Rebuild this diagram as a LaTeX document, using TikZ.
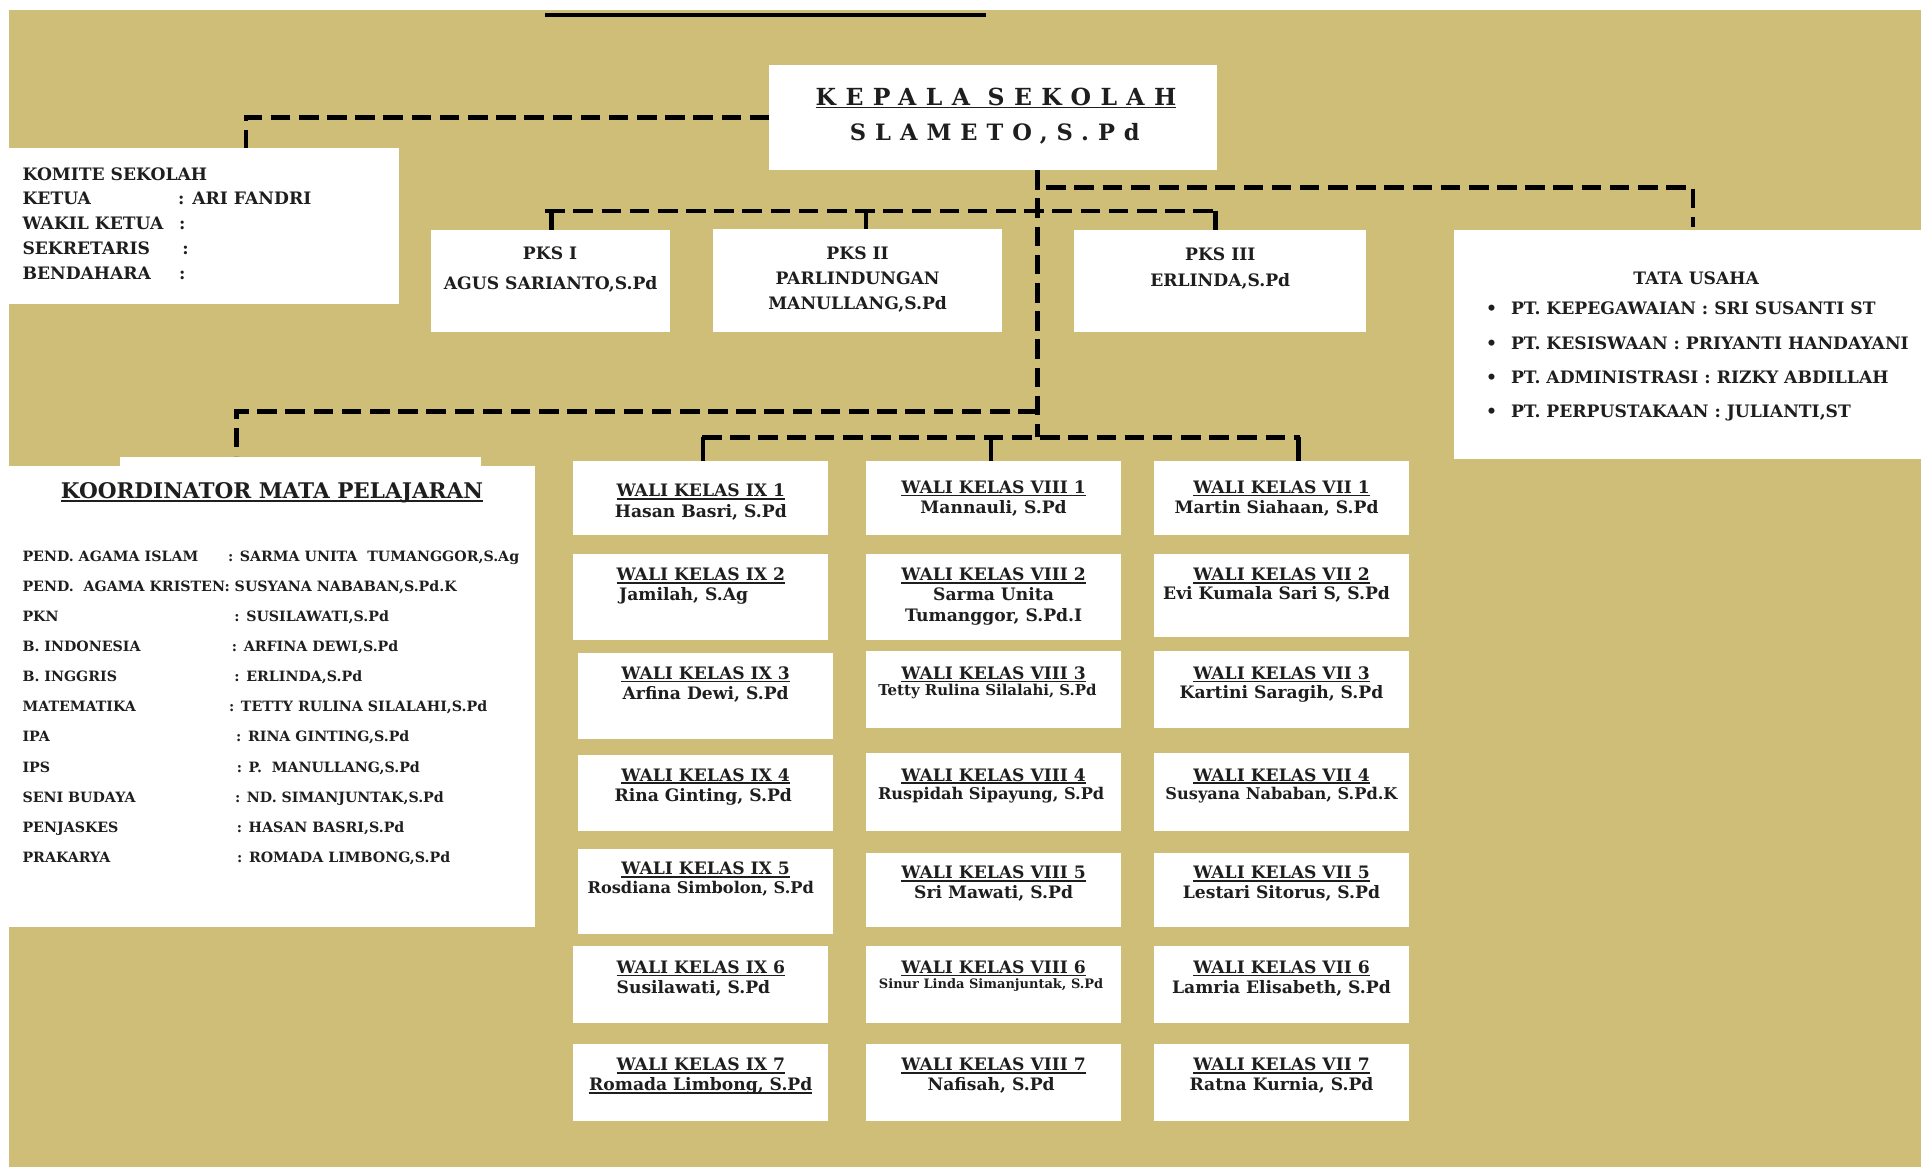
\documentclass[tikz,border=0pt]{standalone}
\usepackage{fontspec}
\setmainfont{DejaVu Serif}
\newfontfamily\kfont[LetterSpace=40]{DejaVu Serif}
\usetikzlibrary{fit}
\definecolor{gold}{RGB}{207,190,120}
\definecolor{ink}{RGB}{30,30,30}
\newcommand{\fs}[1]{\fontsize{#1}{#1}\selectfont}
\newcommand{\myul}[1]{\leavevmode\setbox0\hbox{#1}\rlap{\rule[-1.2pt]{\wd0}{0.6pt}}\box0}
\tikzset{
  box/.style={fill=white, draw=none, inner sep=0pt, outer sep=0pt},
  conn/.style={draw=black, line width=1.8pt, dash pattern=on 8pt off 3.5pt},
  stub/.style={draw=black, line width=1.8pt},
  txt/.style={text=ink, inner sep=0pt, anchor=base, font=\bfseries\fs{7}},
  txtl/.style={txt, anchor=base west},
  sub/.style={txtl, font=\bfseries\fs{5.8}},
  ttl/.style={txt, font=\bfseries\fs{7}},
}
\begin{document}
\begin{tikzpicture}[x=0.5pt,y=-0.5pt]
\useasboundingbox (0,0) rectangle (1568,952.5);
\fill[white] (0,0) rectangle (1568,952.5);
\fill[gold] (7,8) rectangle (1568,952.5);
\draw[line width=1.6pt] (445,12) -- (805,12);

% ---------- top boxes ----------
\node[box, fit={(628,53) (993,139)}] (kepala) {};
\node[txt, font=\kfont\bfseries\fs{9.6}] (kep1) at (813,86) {\myul{KEPALA SEKOLAH}};
\node[txt, font=\kfont\bfseries\fs{9.2}] (kep2) at (812,114.3) {SLAMETO,S.Pd};

\node[box, fit={(7,121) (326,248)}] (komite) {};
\node[txtl] (km0) at (18,147) {KOMITE SEKOLAH};
\node[txtl] (km1) at (18,167.3) {KETUA};
\node[txtl] (km1b) at (145,167.3) {: ARI FANDRI};
\node[txtl] (km2) at (18,187.7) {WAKIL KETUA};
\node[txtl] (km2b) at (145.8,187.7) {:};
\node[txtl] (km3) at (18,208.1) {SEKRETARIS};
\node[txtl] (km3b) at (148.4,208.1) {:};
\node[txtl] (km4) at (18,228) {BENDAHARA};
\node[txtl] (km4b) at (145.8,228) {:};

\node[box, fit={(352,188) (547,271)}] (pks1) {};
\node[txt] (p1a) at (449,211.7) {PKS I};
\node[txt] (p1b) at (449.5,236.2) {AGUS SARIANTO,S.Pd};

\node[box, fit={(582,187) (818,271)}] (pks2) {};
\node[txt] (p2a) at (700,211.7) {PKS II};
\node[txt] (p2b) at (700,232) {PARLINDUNGAN};
\node[txt] (p2c) at (700,252.5) {MANULLANG,S.Pd};

\node[box, fit={(877,188) (1115,271)}] (pks3) {};
\node[txt] (p3a) at (996,213) {PKS III};
\node[txt] (p3b) at (996,233.5) {ERLINDA,S.Pd};

\node[box, fit={(1187,188) (1568,375)}] (tu) {};
\node[txt] (tu0) at (1384.5,232.6) {TATA USAHA};
\node[txt] (tub1) at (1217.5,256.6) {•};
\node[txtl] (tu1) at (1233,256.6) {PT. KEPEGAWAIAN : SRI SUSANTI ST};
\node[txt] (tub2) at (1217.5,285.1) {•};
\node[txtl] (tu2) at (1233,285.1) {PT. KESISWAAN : PRIYANTI HANDAYANI};
\node[txt] (tub3) at (1217.5,312.9) {•};
\node[txtl] (tu3) at (1233,312.9) {PT. ADMINISTRASI : RIZKY ABDILLAH};
\node[txt] (tub4) at (1217.5,340.6) {•};
\node[txtl] (tu4) at (1233,340.6) {PT. PERPUSTAKAAN : JULIANTI,ST};

% ---------- koordinator ----------
\node[box, fit={(7,380) (437,757)}] (koord) {};
\fill[white] (98,373) rectangle (393,381);
\node[txt, font=\bfseries\fs{8.8}] (kt) at (222,407) {\myul{KOORDINATOR MATA PELAJARAN}};
\node[sub] (r0) at (18,458) {PEND. AGAMA ISLAM};
\node[sub] (r0b) at (185.7,458) {: SARMA UNITA~~TUMANGGOR,S.Ag};
\node[sub] (r1) at (18,482.6) {PEND.~~AGAMA KRISTEN: SUSYANA NABABAN,S.Pd.K};
\node[sub] (r2) at (18,507.2) {PKN};
\node[sub] (r2b) at (191,507.2) {: SUSILAWATI,S.Pd};
\node[sub] (r3) at (18,531.8) {B. INDONESIA};
\node[sub] (r3b) at (188.9,531.8) {: ARFINA DEWI,S.Pd};
\node[sub] (r4) at (18,556.4) {B. INGGRIS};
\node[sub] (r4b) at (191,556.4) {: ERLINDA,S.Pd};
\node[sub] (r5) at (18,581) {MATEMATIKA};
\node[sub] (r5b) at (186.6,581) {: TETTY RULINA SILALAHI,S.Pd};
\node[sub] (r6) at (18,605.6) {IPA};
\node[sub] (r6b) at (192.4,605.6) {: RINA GINTING,S.Pd};
\node[sub] (r7) at (18,630.2) {IPS};
\node[sub] (r7b) at (192.9,630.2) {: P.~~MANULLANG,S.Pd};
\node[sub] (r8) at (18,654.8) {SENI BUDAYA};
\node[sub] (r8b) at (191.5,654.8) {: ND. SIMANJUNTAK,S.Pd};
\node[sub] (r9) at (18,679.4) {PENJASKES};
\node[sub] (r9b) at (192.9,679.4) {: HASAN BASRI,S.Pd};
\node[sub] (r10) at (18,704) {PRAKARYA};
\node[sub] (r10b) at (193.2,704) {: ROMADA LIMBONG,S.Pd};

% ---------- wali kelas IX ----------
\node[box, fit={(468,376) (676,437)}] (ix1) {};
\node[ttl] (ix1t) at (572,405.5) {\myul{WALI KELAS IX 1}};
\node[txt] (ix1n) at (572,422) {Hasan Basri, S.Pd};
\node[box, fit={(468,452) (676,522)}] (ix2) {};
\node[ttl] (ix2t) at (572,474) {\myul{WALI KELAS IX 2}};
\node[txtl] (ix2n) at (505,490) {Jamilah, S.Ag};
\node[box, fit={(472,533) (680,603)}] (ix3) {};
\node[ttl] (ix3t) at (576,554.5) {\myul{WALI KELAS IX 3}};
\node[txt] (ix3n) at (576,571) {Arfina Dewi, S.Pd};
\node[box, fit={(472,616) (680,678)}] (ix4) {};
\node[ttl] (ix4t) at (576,637.5) {\myul{WALI KELAS IX 4}};
\node[txt] (ix4n) at (574,654) {Rina Ginting, S.Pd};
\node[box, fit={(472,693) (680,762)}] (ix5) {};
\node[ttl] (ix5t) at (576,714) {\myul{WALI KELAS IX 5}};
\node[txt, font=\bfseries\fs{6.6}] (ix5n) at (572,729) {Rosdiana Simbolon, S.Pd};
\node[box, fit={(468,772) (676,835)}] (ix6) {};
\node[ttl] (ix6t) at (572,794.5) {\myul{WALI KELAS IX 6}};
\node[txt] (ix6n) at (566,810.8) {Susilawati, S.Pd};
\node[box, fit={(468,852) (676,915)}] (ix7) {};
\node[ttl] (ix7t) at (572,874) {\myul{WALI KELAS IX 7}};
\node[txt] (ix7n) at (572,890.3) {\myul{Romada Limbong, S.Pd}};

% ---------- wali kelas VIII ----------
\node[box, fit={(707,376) (915,437)}] (viii1) {};
\node[ttl] (viii1t) at (811,402.5) {\myul{WALI KELAS VIII 1}};
\node[txt] (viii1n) at (811,419) {Mannauli, S.Pd};
\node[box, fit={(707,452) (915,522)}] (viii2) {};
\node[ttl] (viii2t) at (811,474) {\myul{WALI KELAS VIII 2}};
\node[txt] (viii2n) at (811,490) {Sarma Unita};
\node[txt] (viii2m) at (811,507) {Tumanggor, S.Pd.I};
\node[box, fit={(707,531) (915,594)}] (viii3) {};
\node[ttl] (viii3t) at (811,554.5) {\myul{WALI KELAS VIII 3}};
\node[txt, font=\bfseries\fs{6.1}] (viii3n) at (806,568) {Tetty Rulina Silalahi, S.Pd};
\node[box, fit={(707,615) (915,678)}] (viii4) {};
\node[ttl] (viii4t) at (811,637.5) {\myul{WALI KELAS VIII 4}};
\node[txt, font=\bfseries\fs{6.6}] (viii4n) at (809,652.5) {Ruspidah Sipayung, S.Pd};
\node[box, fit={(707,696) (915,757)}] (viii5) {};
\node[ttl] (viii5t) at (811,717.2) {\myul{WALI KELAS VIII 5}};
\node[txt] (viii5n) at (811,733.5) {Sri Mawati, S.Pd};
\node[box, fit={(707,772) (915,835)}] (viii6) {};
\node[ttl] (viii6t) at (811,794.5) {\myul{WALI KELAS VIII 6}};
\node[txt, font=\bfseries\fs{5.3}] (viii6n) at (809,806.7) {Sinur Linda Simanjuntak, S.Pd};
\node[box, fit={(707,852) (915,915)}] (viii7) {};
\node[ttl] (viii7t) at (811,874) {\myul{WALI KELAS VIII 7}};
\node[txt] (viii7n) at (809,890.3) {Nafisah, S.Pd};

% ---------- wali kelas VII ----------
\node[box, fit={(942,376) (1150,437)}] (vii1) {};
\node[ttl] (vii1t) at (1046,402.5) {\myul{WALI KELAS VII 1}};
\node[txt] (vii1n) at (1042,419) {Martin Siahaan, S.Pd};
\node[box, fit={(942,452) (1150,520)}] (vii2) {};
\node[ttl] (vii2t) at (1046,474) {\myul{WALI KELAS VII 2}};
\node[txt] (vii2n) at (1042,489) {Evi Kumala Sari S, S.Pd};
\node[box, fit={(942,531) (1150,594)}] (vii3) {};
\node[ttl] (vii3t) at (1046,554.5) {\myul{WALI KELAS VII 3}};
\node[txt] (vii3n) at (1046,570) {Kartini Saragih, S.Pd};
\node[box, fit={(942,615) (1150,678)}] (vii4) {};
\node[ttl] (vii4t) at (1046,637.5) {\myul{WALI KELAS VII 4}};
\node[txt, font=\bfseries\fs{6.6}] (vii4n) at (1046,652.5) {Susyana Nababan, S.Pd.K};
\node[box, fit={(942,696) (1150,757)}] (vii5) {};
\node[ttl] (vii5t) at (1046,717.2) {\myul{WALI KELAS VII 5}};
\node[txt] (vii5n) at (1046,733.5) {Lestari Sitorus, S.Pd};
\node[box, fit={(942,772) (1150,835)}] (vii6) {};
\node[ttl] (vii6t) at (1046,794.5) {\myul{WALI KELAS VII 6}};
\node[txt] (vii6n) at (1046,810.8) {Lamria Elisabeth, S.Pd};
\node[box, fit={(942,852) (1150,915)}] (vii7) {};
\node[ttl] (vii7t) at (1046,874) {\myul{WALI KELAS VII 7}};
\node[txt] (vii7n) at (1046,890.3) {Ratna Kurnia, S.Pd};

% ---------- connectors ----------
\coordinate (kk) at (201,121);
\draw[conn] (kepala.west) -| (kk);

\coordinate (t0) at (847,139);
\coordinate (t1) at (847,357);
\draw[conn] (t0) -- (t1);

\coordinate (pl) at (445,172);
\coordinate (pr) at (992,172);
\draw[conn] (pl) -- (pr);
\coordinate (s1) at (450,172);
\coordinate (s2) at (707,172);
\coordinate (s3) at (992,172);
\draw[stub] (s1) -- (s1 |- pks1.north);
\draw[stub] (s2) -- (s2 |- pks2.north);
\draw[stub] (s3) -- (s3 |- pks3.north);

\coordinate (tb) at (854,153);
\coordinate (te) at (1382,185);
\draw[conn] (tb) -| (te);

\coordinate (kb) at (847,336);
\coordinate (kt) at (193,372);
\draw[conn] (kb) -| (kt);

\coordinate (wl) at (573,357);
\coordinate (wr) at (1061,357);
\draw[conn] (wl) -- (wr);
\coordinate (w1) at (574,357);
\coordinate (w2) at (809,357);
\coordinate (w3) at (1060,357);
\draw[stub] (w1) -- (w1 |- ix1.north);
\draw[stub] (w2) -- (w2 |- viii1.north);
\draw[stub] (w3) -- (w3 |- vii1.north);
\end{tikzpicture}
\end{document}
